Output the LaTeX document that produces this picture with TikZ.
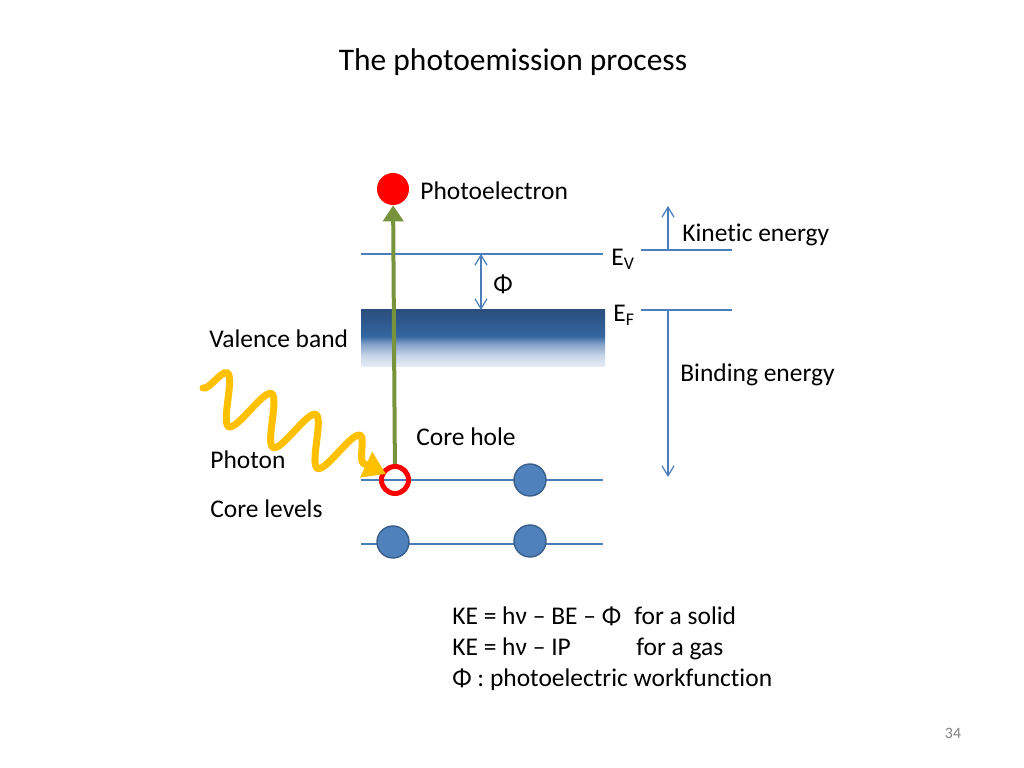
\documentclass[tikz,border=0pt]{standalone}
\usepackage{fontspec}
\setmainfont[Ligatures=NoCommon]{Carlito}
\usetikzlibrary{arrows.meta,decorations.pathmorphing}

\definecolor{lineblue}{HTML}{4A7EBB}
\definecolor{dotblue}{HTML}{4F81BD}
\definecolor{dotedge}{HTML}{385D8A}
\definecolor{stemgreen}{HTML}{77933C}
\definecolor{photonyellow}{HTML}{FFC000}

\pgfdeclareverticalshading{vband}{100bp}{%
	color(0bp)=({rgb,255:red,232;green,238;blue,246}); color(25bp)=({rgb,255:red,232;green,238;blue,246});
	color(35bp)=({rgb,255:red,200;green,213;blue,233});
	color(45bp)=({rgb,255:red,134;green,163;blue,202});
	color(52bp)=({rgb,255:red,52;green,102;blue,160});
	color(75bp)=({rgb,255:red,43;green,78;blue,126});
	color(100bp)=({rgb,255:red,43;green,78;blue,126})}

\begin{document}
\begin{tikzpicture}[
		x=0.2mm, y=-0.2mm,
		lbl/.style={font=\fontsize{14.5}{17}\selectfont, inner sep=0, anchor=west, text height=12pt, text depth=2.5pt},
		level/.style={lineblue, line width=0.7pt},
		gap/.style={lineblue, line width=0.7pt, {Straight Barb[length=2mm,width=2.4mm]}-{Straight Barb[length=2mm,width=2.4mm]}},
		upto/.style={lineblue, line width=0.7pt, -{Straight Barb[length=2mm,width=2.4mm]}},
		electron/.style={circle, fill=dotblue, draw=dotedge, line width=0.8pt, minimum size=6.4mm, inner sep=0},
		hole/.style={circle, draw=red, line width=1mm, minimum size=5.4mm, inner sep=0}]

		\useasboundingbox (0,0) rectangle (1024,768);

		\node[font=\fontsize{17.9}{21}\selectfont] (title) at (513,62) {The photoemission process};

		% valence band
		\shade[shading=vband] (361,310) rectangle (605,367);

		% levels
		\coordinate (evl) at (361,254);  \coordinate (evr) at (603,254);
		\coordinate (cl1l) at (361,480); \coordinate (cl1r) at (603,480);
		\coordinate (cl2l) at (361,544); \coordinate (cl2r) at (603,544);
		\draw[level] (evl) -- (evr);
		\draw[level] (cl1l) -- (cl1r);
		\draw[level] (cl2l) -- (cl2r);

		% energy scale
		\coordinate (kel) at (641,250); \coordinate (ker) at (732,250);
		\coordinate (bel) at (641,310); \coordinate (ber) at (732,310);
		\coordinate (ke0) at (668,250); \coordinate (ke1) at (668,206);
		\coordinate (be0) at (668,310); \coordinate (be1) at (668,477);
		\draw[level] (kel) -- (ker);
		\draw[level] (bel) -- (ber);
		\draw[upto] (ke0) -- (ke1);
		\draw[upto] (be0) -- (be1);

		% work function
		\coordinate (phi0) at (481,254); \coordinate (phi1) at (481,310);
		\draw[gap] (phi0) -- (phi1);

		% electrons
		\node[circle, fill=red, minimum size=6.4mm, inner sep=0] (pe) at (393,189) {};
		\node[hole] (ch) at (395,480) {};
		\node[electron] (c1) at (530,480) {};
		\node[electron] (c2) at (393,542) {};
		\node[electron] (c3) at (530,541) {};

		\draw[stemgreen, line width=0.8mm, -{Triangle[length=3.2mm,width=4mm]}] (ch) -- (pe);

		% photon
		\coordinate (ph0) at (203,388);
		\coordinate (ph1) at (386,474);
		\draw[photonyellow, line width=1.4mm, line cap=round,
			decorate, decoration={snake, amplitude=4.8mm, segment length=9.8mm, post length=4mm},
			-{Triangle[length=4.4mm,width=5.4mm]}] (ph0) -- (ph1);

		% labels
		\node[lbl] (lpe) at (420,191) {Photoelectron};
		\node[lbl] (lke) at (682,233) {Kinetic energy};
		\node[lbl] (lev) at (611,257) {E\textsubscript{V}};
		\node[lbl] (lphi) at (493,284) {Φ};
		\node[lbl] (lef) at (613,313) {E\textsubscript{F}};
		\node[lbl] (lvb) at (209,339) {Valence band};
		\node[lbl] (lbe) at (680,373) {Binding energy};
		\node[lbl] (lch) at (416,437) {Core hole};
		\node[lbl] (lph) at (210,460) {Photon};
		\node[lbl] (lcl) at (210,509) {Core levels};

		\node[lbl] (eq1) at (452,616) {KE = hν – BE – Φ};
		\node[lbl] (eq1b) at (634,616) {for a solid};
		\node[lbl] (eq2) at (452,647) {KE = hν – IP};
		\node[lbl] (eq2b) at (636,647) {for a gas};
		\node[lbl] (eq3) at (452,678) {Φ : photoelectric workfunction};

		\node[font=\fontsize{9}{11}\selectfont, text=gray] (pg) at (953,733) {34};

\end{tikzpicture}
\end{document}
